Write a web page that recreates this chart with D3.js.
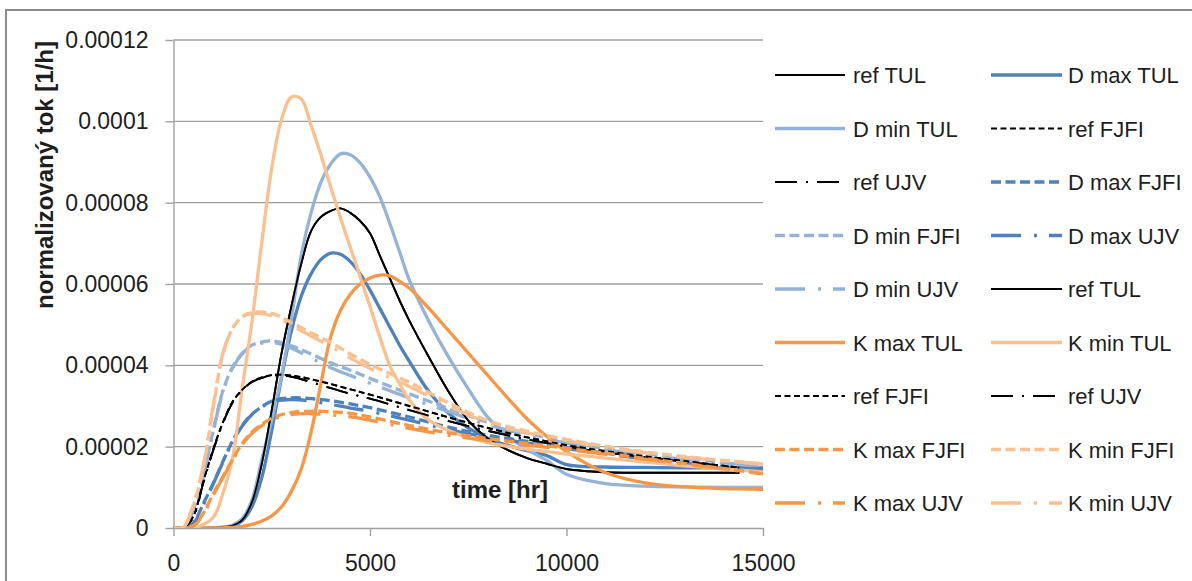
<!DOCTYPE html>
<html>
<head>
<meta charset="utf-8">
<script src="https://cdn.jsdelivr.net/npm/d3@7"></script>
<style>
  html, body { margin: 0; padding: 0; background: #ffffff; }
  svg { display: block; }
  text { font-family: "Liberation Sans", Arial, sans-serif; fill: #1e1e1e; }
</style>
</head>
<body>
<svg id="chart" width="1192" height="581"></svg>
<script>
// ---- data -------------------------------------------------------------
// time [hr]; flux values are given in units of 1e-6 1/h

// time grid of the TUL calculations
const timeTUL = [0, 500, 1000, 1250, 1500, 1750, 2000, 2250, 2500, 2750, 3000, 3250,
  3500, 3750, 4000, 4250, 4500, 4750, 5000, 5250, 5500, 5750, 6000, 6500, 7000, 7500,
  8000, 8500, 9000, 9500, 10000, 11000, 12000, 13000, 14000, 14400, 15000];

// time grid of the FJFI and UJV calculations
const timeFJFIUJV = [0, 250, 500, 750, 1000, 1250, 1500, 1750, 2000, 2500, 3000, 3500,
  4000, 4500, 5000, 6000, 7000, 8000, 9000, 10000, 11000, 12000, 13000, 14000, 14400, 15000];

const refTUL  = [0, 0, 0.05, 0.2, 0.6, 2.0, 6.5, 16, 29, 43, 54.5, 65, 73, 76.5, 78, 78.6,
  77.5, 75.5, 72.5, 67, 61.5, 56, 51, 42, 33.5, 26.4, 22, 19.2, 17.2, 15.8, 14.5, 13.7,
  13.6, 13.6, 13.6, 13.6, null];
const dMaxTUL = [0, 0, 0.05, 0.15, 0.5, 1.8, 5.3, 12.5, 24, 37, 48.5, 57, 62.5, 66, 67.6,
  67.3, 65.5, 62.5, 58.5, 54, 49.5, 45, 41, 33.5, 28.2, 24.6, 22, 20.3, 19, 17.8, 15.6,
  15, 14.9, 14.8, 14.8, 14.8, 14.8];
const dMinTUL = [0, 0, 0.05, 0.2, 0.7, 2.3, 7, 17, 26.5, 37.5, 51.5, 67, 77.5, 85, 89.5,
  92, 91.8, 89.8, 86.3, 81.5, 75, 68, 61, 50.8, 42, 34.2, 27.2, 22.6, 19.3, 16.6, 13.2,
  10.9, 10.3, 10.1, 10.0, 10.0, 10.0];
const kMaxTUL = [0, 0, 0, 0.05, 0.15, 0.4, 0.9, 1.7, 3.0, 5.2, 9.0, 14.5, 23.5, 35.5, 47,
  53.5, 57.5, 60, 61.5, 62.2, 62, 60.7, 59, 54, 48.5, 43, 37.5, 32, 26.8, 22.5, 18.8,
  13.6, 11.1, 10.1, 9.7, 9.6, 9.5];
const kMinTUL = [0, 0, 2.5, 8.3, 17, 34.5, 51, 70.5, 88.5, 100.5, 106, 105.5, 99, 91.8,
  83.8, 76.2, 69, 61.8, 54.5, 47, 40, 35.5, 31.5, 26.5, 24, 22.3, 21, 20.1, 19.4, 18.8,
  18.2, 17.2, 16.2, 15.3, 14.5, 14.2, 13.8];

const refFJFI  = [0, 0, 2.8, 11.2, 19, 25.8, 31, 34, 36, 37.6, 37.5, 36.6, 35.4, 34.1,
  32.8, 30, 27.2, 24.6, 22.3, 20.4, 18.9, 17.6, 16.5, 15.3, 14.9, null];
const refUJV   = [0, 0, 2.5, 10.8, 18.8, 25.6, 30.8, 33.9, 35.9, 37.5, 37.2, 35.9, 34.4,
  33, 31.8, 29, 26.3, 23.9, 21.8, 20, 18.6, 17.4, 16.3, 15.2, 14.8, null];
const dMaxFJFI = [0, 0, 1.2, 5.8, 10.8, 16.2, 21.3, 25.2, 28, 31.2, 32, 31.8, 31.3, 30.5,
  29.6, 27.3, 24.8, 22.8, 21.3, 19.8, 18.4, 17.2, 16.1, 15.1, 14.7, 14.2];
const dMaxUJV  = [0, 0, 1.0, 5.5, 10.6, 16, 21.2, 25.1, 27.9, 31, 31.6, 31.2, 30.4, 29.5,
  28.7, 26.5, 24.2, 22.3, 20.9, 19.5, 18.2, 17, 16, 15, 14.6, 14.1];
const dMinFJFI = [0, 0, 4.5, 12.5, 23.5, 33.5, 39.5, 43, 45, 46, 44.8, 42.8, 40.6, 38.8,
  36.8, 33, 29.4, 26, 23.3, 21.2, 19.5, 18.2, 17.1, 16.1, 15.8, 15.3];
const dMinUJV  = [0, 0, 4.2, 12.2, 23.2, 33.2, 39.3, 42.8, 44.8, 45.6, 44.2, 41.8, 39.4,
  37.5, 35.6, 32, 28.6, 25.4, 22.9, 20.9, 19.3, 18, 16.9, 16, 15.7, 15.2];
const kMaxFJFI = [0, 0, 0.5, 3.5, 8.2, 12.5, 16.8, 20.8, 23.6, 27, 28.4, 28.7, 28.6, 28.2,
  27.3, 25.2, 23.4, 22, 20.8, 19.6, 18.4, 17.1, 15.9, 14.6, 14.1, 13.4];
const kMaxUJV  = [0, 0, 0.4, 3.2, 7.8, 12.3, 16.6, 20.5, 23.3, 26.6, 27.9, 28.1, 27.8,
  27.3, 26.5, 24.5, 22.8, 21.5, 20.4, 19.3, 18.1, 16.9, 15.7, 14.5, 14, 13.3];
const kMinFJFI = [0, 0.1, 5.5, 14.5, 29, 42.5, 49, 52, 53, 52.8, 50.5, 48, 45.6, 42.8,
  40.2, 35.8, 30.8, 26.4, 23.8, 21.8, 20.1, 18.7, 17.6, 16.6, 16.3, 15.8];
const kMinUJV  = [0, 0.1, 5.8, 15, 29.5, 42.8, 49.1, 51.9, 52.7, 52.2, 49.8, 47.2, 44.6,
  41.8, 39.2, 34.8, 30, 25.9, 23.4, 21.5, 19.9, 18.5, 17.4, 16.5, 16.2, 15.7];

const yTickValues = [0, 20, 40, 60, 80, 100, 120];
const yTickLabels = ["0", "0.00002", "0.00004", "0.00006", "0.00008", "0.0001", "0.00012"];
const xTickValues = [0, 5000, 10000, 15000];
const xTickLabels = ["0", "5000", "10000", "15000"];

const yTitle = "normalizovaný tok [1/h]";
const xTitle = "time [hr]";

// ---- styles -----------------------------------------------------------
const C = { black: "#000000", dMax: "#4f81bd", dMin: "#95b3d7", kMax: "#f79646", kMin: "#fac090" };
const STYLE = {
  refSolid: { w: 1.9, dash: null },
  refDash:  { w: 1.9, dash: "6,3.5" },
  refDot:   { w: 1.9, dash: "22,9,2,9" },
  solid:    { w: 3.3, dash: null },
  dash:     { w: 3.3, dash: "10,4.5" },
  dashDot:  { w: 3.3, dash: "30,13,3,12" }
};

// series in plotting / legend order
const series = [
  { name: "ref TUL",    t: timeTUL,     v: refTUL,   color: C.black, s: STYLE.refSolid },
  { name: "D max TUL",  t: timeTUL,     v: dMaxTUL,  color: C.dMax,  s: STYLE.solid },
  { name: "D min TUL",  t: timeTUL,     v: dMinTUL,  color: C.dMin,  s: STYLE.solid },
  { name: "ref FJFI",   t: timeFJFIUJV, v: refFJFI,  color: C.black, s: STYLE.refDash },
  { name: "ref UJV",    t: timeFJFIUJV, v: refUJV,   color: C.black, s: STYLE.refDot },
  { name: "D max FJFI", t: timeFJFIUJV, v: dMaxFJFI, color: C.dMax,  s: STYLE.dash },
  { name: "D min FJFI", t: timeFJFIUJV, v: dMinFJFI, color: C.dMin,  s: STYLE.dash },
  { name: "D max UJV",  t: timeFJFIUJV, v: dMaxUJV,  color: C.dMax,  s: STYLE.dashDot },
  { name: "D min UJV",  t: timeFJFIUJV, v: dMinUJV,  color: C.dMin,  s: STYLE.dashDot },
  { name: "ref TUL",    t: timeTUL,     v: refTUL,   color: C.black, s: STYLE.refSolid },
  { name: "K max TUL",  t: timeTUL,     v: kMaxTUL,  color: C.kMax,  s: STYLE.solid },
  { name: "K min TUL",  t: timeTUL,     v: kMinTUL,  color: C.kMin,  s: STYLE.solid },
  { name: "ref FJFI",   t: timeFJFIUJV, v: refFJFI,  color: C.black, s: STYLE.refDash },
  { name: "ref UJV",    t: timeFJFIUJV, v: refUJV,   color: C.black, s: STYLE.refDot },
  { name: "K max FJFI", t: timeFJFIUJV, v: kMaxFJFI, color: C.kMax,  s: STYLE.dash },
  { name: "K min FJFI", t: timeFJFIUJV, v: kMinFJFI, color: C.kMin,  s: STYLE.dash },
  { name: "K max UJV",  t: timeFJFIUJV, v: kMaxUJV,  color: C.kMax,  s: STYLE.dashDot },
  { name: "K min UJV",  t: timeFJFIUJV, v: kMinUJV,  color: C.kMin,  s: STYLE.dashDot }
];

// ---- layout -----------------------------------------------------------
const svg = d3.select("#chart");
const plot = { left: 173.5, right: 763, top: 40, bottom: 528 };
const gridColor = "#a0a0a0";

const x = d3.scaleLinear().domain([0, 15000]).range([plot.left, plot.right]);
const y = d3.scaleLinear().domain([0, 120]).range([plot.bottom, plot.top]);

// chart frame
svg.append("rect")
  .attr("x", 6).attr("y", 10).attr("width", 1200).attr("height", 600)
  .attr("fill", "none").attr("stroke", "#8c8c8c").attr("stroke-width", 2);

// horizontal gridlines
svg.append("g").selectAll("line")
  .data(yTickValues.filter(d => d > 0))
  .join("line")
  .attr("x1", plot.left).attr("x2", plot.right)
  .attr("y1", d => y(d)).attr("y2", d => y(d))
  .attr("stroke", gridColor).attr("stroke-width", 1.4);

// y axis
const yAxis = svg.append("g")
  .attr("transform", `translate(${plot.left},0)`)
  .call(d3.axisLeft(y).tickValues(yTickValues)
    .tickFormat((d, i) => yTickLabels[i]).tickSize(8).tickSizeOuter(0).tickPadding(17));

// x axis
const xAxis = svg.append("g")
  .attr("transform", `translate(0,${plot.bottom})`)
  .call(d3.axisBottom(x).tickValues(xTickValues)
    .tickFormat((d, i) => xTickLabels[i]).tickSize(8).tickSizeOuter(0).tickPadding(19));

[yAxis, xAxis].forEach(g => {
  g.attr("font-family", null).attr("font-size", null);
  g.selectAll("path.domain").attr("stroke", gridColor).attr("stroke-width", 1.4);
  g.selectAll(".tick line").attr("stroke", gridColor).attr("stroke-width", 1.4);
  g.selectAll(".tick text").style("font-size", "23px").attr("fill", "#1e1e1e");
});

// curves (smoothed lines through the data points, kept inside the plot)
svg.append("clipPath").attr("id", "plot-clip")
  .append("rect")
  .attr("x", plot.left).attr("y", plot.top - 5)
  .attr("width", plot.right - plot.left + 2).attr("height", plot.bottom - plot.top + 5);

const line = d3.line()
  .defined(d => d[1] !== null)
  .x(d => x(d[0]))
  .y(d => y(Math.max(0, d[1])))
  .curve(d3.curveCatmullRom.alpha(0.5));

svg.append("g").attr("clip-path", "url(#plot-clip)")
  .selectAll("path")
  .data(series)
  .join("path")
  .attr("d", s => line(s.t.map((t, i) => [t, s.v[i]])))
  .attr("fill", "none")
  .attr("stroke", s => s.color)
  .attr("stroke-width", s => s.s.w)
  .attr("stroke-dasharray", s => s.s.dash)
  .attr("stroke-linejoin", "round");

// axis titles
svg.append("text")
  .attr("transform", "translate(53,175) rotate(-90)")
  .attr("text-anchor", "middle")
  .style("font-size", "24px").style("font-weight", "bold")
  .text(yTitle);

svg.append("text")
  .attr("x", 500).attr("y", 498)
  .attr("text-anchor", "middle")
  .style("font-size", "24px").style("font-weight", "bold")
  .text(xTitle);

// legend, two columns
const legCol = [{ x0: 775, x1: 845, tx: 853 }, { x0: 991, x1: 1062, tx: 1068 }];
const legRow0 = 75, legStep = 53.5;
const leg = svg.append("g").selectAll("g")
  .data(series)
  .join("g")
  .attr("transform", (s, i) => `translate(0,${legRow0 + Math.floor(i / 2) * legStep})`);

leg.append("line")
  .attr("x1", (s, i) => legCol[i % 2].x0)
  .attr("x2", (s, i) => legCol[i % 2].x1)
  .attr("y1", 0).attr("y2", 0)
  .attr("stroke", s => s.color)
  .attr("stroke-width", s => s.s.w)
  .attr("stroke-dasharray", s => s.s.dash);

leg.append("text")
  .attr("x", (s, i) => legCol[i % 2].tx)
  .attr("y", 8)
  .style("font-size", "22px")
  .text(s => s.name);
</script>
</body>
</html>
